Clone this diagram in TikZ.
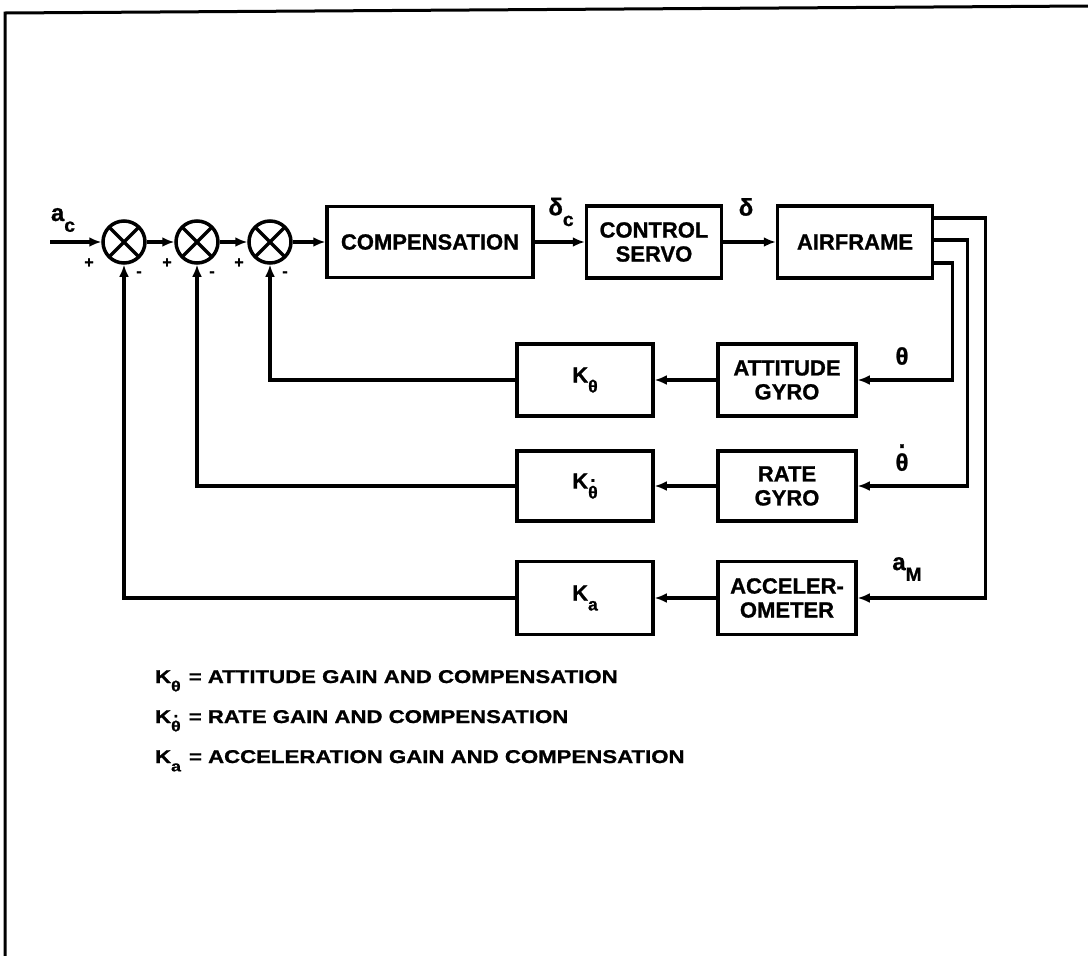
\documentclass[tikz,border=0pt]{standalone}
\usepackage{fontspec}
\setmainfont{Liberation Sans}[BoldFeatures={FakeBold=1}]
\newfontfamily\legendfont{Liberation Sans}[FakeStretch=1.2, BoldFeatures={FakeBold=1}]
\usetikzlibrary{arrows.meta}

\newcommand{\lowsub}[1]{\raisebox{-0.45em}{\scalebox{0.8}{#1}}}
\newcommand{\thdot}{\ooalign{θ\cr\hidewidth\raisebox{0.95em}{.}\hidewidth\cr}}

\begin{document}
\begin{tikzpicture}[x=1pt, y=-1pt, line width=3.5pt,
    block/.style={draw, font=\fontsize{22}{24}\selectfont\bfseries,
      align=center, inner sep=0pt},
    sumnode/.style={draw, circle, minimum size=42pt, inner sep=0pt,
      path picture={\draw (path picture bounding box.north west) -- (path picture bounding box.south east)
        (path picture bounding box.south west) -- (path picture bounding box.north east);}},
    sig/.style={-{Latex[length=12pt,width=10pt]}},
    lbl/.style={font=\fontsize{24}{26}\selectfont\bfseries},
    sgn/.style={font=\fontsize{16}{16}\selectfont\bfseries},
    legendtxt/.style={anchor=base west, font=\legendfont\fontsize{18.5}{20}\selectfont\bfseries}]
  \useasboundingbox (0,0) rectangle (1088,956);
  % page frame (top and left edge only)
  \draw[line width=3pt] (5,956) -- (5,13) -- (1088,6);
  % summing junctions
  \node[sumnode] (s1) at (124,242) {};
  \node[sumnode] (s2) at (197,242) {};
  \node[sumnode] (s3) at (270,242) {};
  \node[sgn] (p1) at (89,263) {+};
  \node[sgn] (p2) at (167,263) {+};
  \node[sgn] (p3) at (239,263) {+};
  \node[sgn] (m1) at (139,274) {-};
  \node[sgn] (m2) at (212,274) {-};
  \node[sgn] (m3) at (285,274) {-};
  % forward path
  \node[block, minimum width=206pt, minimum height=71pt] (comp) at (430,242) {COMPENSATION};
  \node[block, minimum width=135pt, minimum height=72pt] (servo) at (654,242) {CONTROL\\SERVO};
  \node[block, minimum width=155pt, minimum height=72pt] (air) at (855,242) {AIRFRAME};
  % feedback sensors and gains
  \node[block, minimum width=138pt, minimum height=72pt] (att) at (787,380) {ATTITUDE\\GYRO};
  \node[block, minimum width=138pt, minimum height=70pt] (rate) at (787,486) {RATE\\GYRO};
  \node[block, minimum width=138pt, minimum height=73pt] (acc) at (787,598) {ACCELER-\\OMETER};
  \node[block, minimum width=136pt, minimum height=72pt] (kth) at (585,380) {K\lowsub{θ}};
  \node[block, minimum width=136pt, minimum height=70pt] (kthd) at (585,486) {K\lowsub{\thdot}};
  \node[block, minimum width=136pt, minimum height=73pt] (ka) at (585,598) {K\lowsub{a}};
  % signal labels
  \node[lbl] (ac) at (63,220) {a\lowsub{c}};
  \node[lbl] (dc) at (561,212) {δ\lowsub{c}};
  \node[lbl] (dl) at (746,207) {δ};
  \node[lbl] (th) at (902,356) {θ};
  \node[lbl] (thd) at (902,462) {\thdot};
  \node[lbl] (am) at (907,569) {a\lowsub{M}};
  % connectors
  \coordinate (in) at (50,242);
  \draw[sig] (in) -- (s1);
  \draw[sig] (s1) -- (s2);
  \draw[sig] (s2) -- (s3);
  \draw[sig] (s3) -- (comp);
  \draw[sig] (comp) -- (servo);
  \draw[sig] (servo) -- (air);
  \draw[sig] ([yshift=24pt]air.east) -- ++(51,0) |- (acc.east);
  \draw[sig] ([yshift=2pt]air.east) -- ++(33,0) |- (rate.east);
  \draw[sig] ([yshift=-21pt]air.east) -- ++(18,0) |- (att.east);
  \draw[sig] (att) -- (kth);
  \draw[sig] (rate) -- (kthd);
  \draw[sig] (acc) -- (ka);
  \draw[sig] (kth.west) -| (s3.south);
  \draw[sig] (kthd.west) -| (s2.south);
  \draw[sig] (ka.west) -| (s1.south);
  % legend
  \node[legendtxt] (l1) at (150,683) {K\lowsub{θ}\hspace{8pt}= ATTITUDE GAIN AND COMPENSATION};
  \node[legendtxt] (l2) at (150,723) {K\lowsub{\thdot}\hspace{8pt}= RATE GAIN AND COMPENSATION};
  \node[legendtxt] (l3) at (150,763) {K\lowsub{a}\hspace{8pt}= ACCELERATION GAIN AND COMPENSATION};
\end{tikzpicture}
\end{document}
